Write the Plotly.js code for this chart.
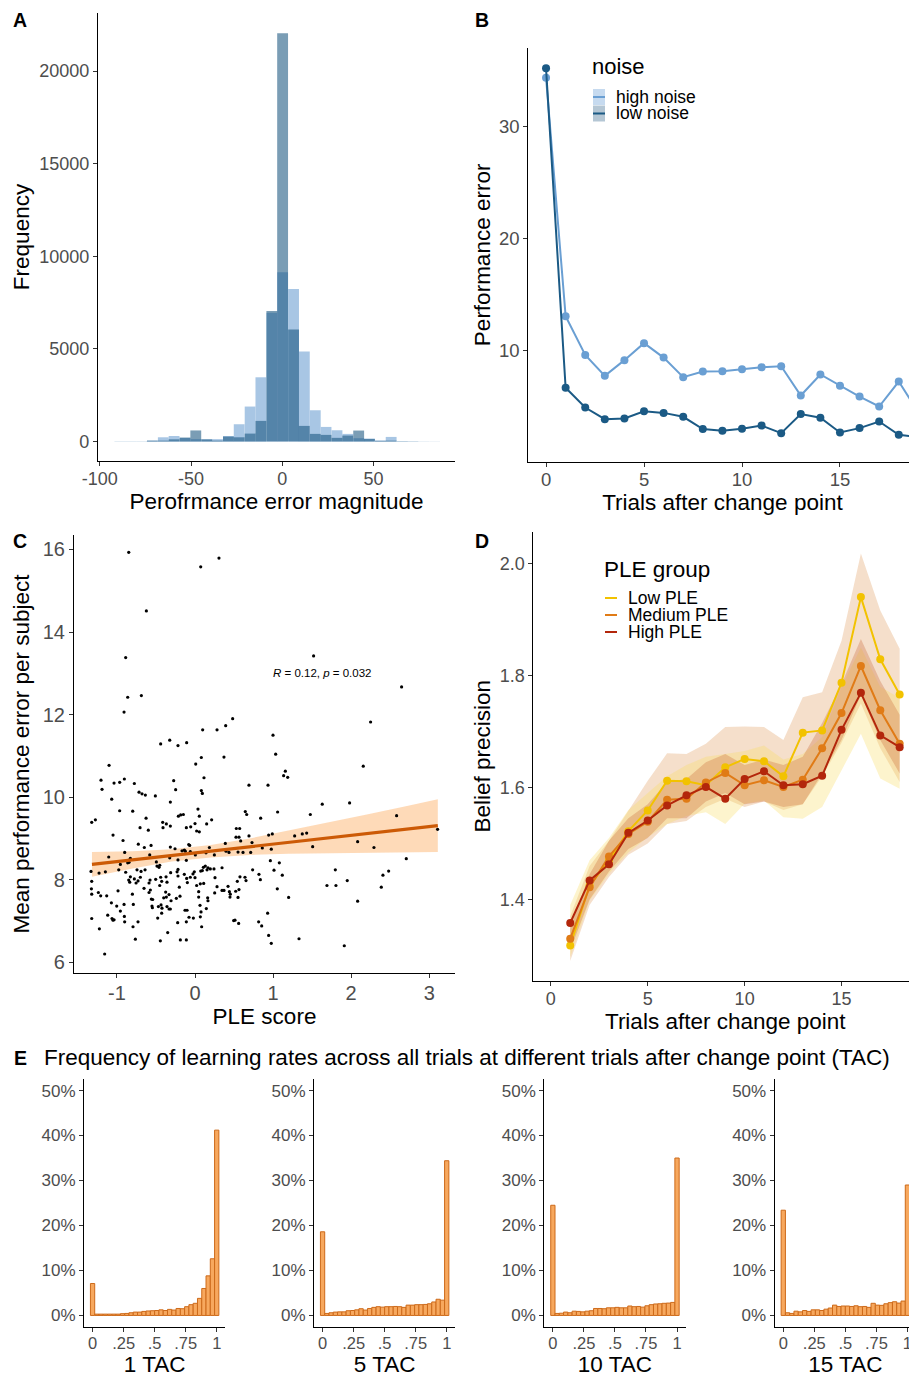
<!DOCTYPE html>
<html><head><meta charset="utf-8">
<script src="https://cdn.plot.ly/plotly-3.0.1.min.js"></script>
<style>html,body{margin:0;padding:0;overflow:hidden;background:#fff}#chart{width:940px;height:1378px}</style>
</head><body><div id="chart"></div>
<script>
// ---------- Panel A: histogram of performance error ----------
const errBinCenters = [-89.0,-83.1,-77.1,-71.2,-65.2,-59.3,-53.3,-47.4,-41.4,-35.5,-29.5,-23.6,-17.6,-11.7,-5.7,0.2,6.2,12.1,18.1,24.0,30.0,35.9,41.9,47.8,53.8,59.7,65.7,71.6,77.6,83.5];
const highNoiseCounts = [10,10,10,50,230,300,200,130,120,130,300,935,1890,3470,6950,9140,8240,4857,1690,790,610,414,180,160,55,250,20,15,5,5];
const lowNoiseCounts  = [5,5,5,50,50,120,215,600,120,50,270,230,430,1115,7050,22040,6045,845,414,360,200,324,594,140,40,50,15,10,5,3];
const errTickVals = [-100,-50,0,50];
const errTickText = ['-100','-50','0','50'];
const freqTickVals = [0,5000,10000,15000,20000];
const freqTickText = ['0','5000','10000','15000','20000'];

// ---------- Panel B: performance error by trial ----------
const trialsB = [0,1,2,3,4,5,6,7,8,9,10,11,12,13,14,15,16,17,18,19];
const highNoiseErr = [34.4,13.1,9.64,7.77,9.17,10.69,9.40,7.65,8.15,8.18,8.36,8.54,8.63,6.01,7.89,6.88,5.92,5.03,7.26,4.5];
const lowNoiseErr  = [35.24,6.70,4.94,3.90,3.96,4.61,4.46,4.11,3.01,2.86,3.04,3.33,2.65,4.35,4.02,2.71,3.10,3.69,2.50,2.3];
const noiseNames = ['high noise','low noise'];

// ---------- Panel C: scatter PLE score vs mean performance error ----------
const pleScore = [
-0.849,0.307,0.073,-0.623,-0.888,1.519,2.646,-0.862,-0.687,-0.909,
2.249,0.482,0.393,0.282,0.098,0.999,-0.440,-0.324,-0.218,-0.107,
0.371,1.033,0.081,0.009,2.155,-1.101,1.157,1.135,1.187,0.115,
-1.204,-1.191,-0.965,-1.037,-0.905,-0.777,-0.273,-0.248,-0.717,-0.679,
-0.636,0.081,0.094,0.691,0.935,-0.508,-1.067,-0.316,-0.965,-0.798,
0.038,-0.213,-0.184,-0.149,0.055,-0.627,0.149,0.213,0.644,0.662,
0.841,1.058,1.477,1.630,1.980,2.582,-1.323,-1.276,-0.414,-0.367,
-0.316,-0.704,-0.598,-0.410,-0.111,-0.055,0.000,0.021,0.055,0.529,
0.572,0.943,0.990,1.276,1.374,1.430,-1.050,-0.922,-0.901,-0.726,
-0.649,-0.563,-0.316,-0.256,-0.081,-0.068,-0.166,-0.137,-0.124,0.525,
0.563,0.388,0.585,0.691,0.730,2.083,1.507,2.292,2.706,3.107,
-1.105,-0.828,-0.845,-0.956,-0.977,-0.888,-0.862,-0.580,-0.495,-0.452,
-0.324,-0.218,-0.111,-0.060,0.004,0.141,0.184,0.248,0.397,0.435,
0.551,0.615,0.713,0.862,0.977,0.965,1.012,1.080,1.118,1.199,
1.054,-1.332,-1.229,-1.148,-1.323,-1.327,-1.323,-1.238,-1.208,-1.131,
-0.986,-0.802,-0.849,-0.836,-0.828,-0.777,-0.755,-0.730,-0.700,-0.743,
-0.691,-0.640,-0.653,-0.576,-0.589,-0.572,-0.589,-0.504,-0.427,-0.440,
-0.371,-0.359,-0.376,-0.333,-0.367,-0.452,-0.542,-0.487,-0.461,-0.312,
-0.218,-0.218,-0.230,-0.201,-0.137,-0.098,-0.107,-0.060,-0.009,-0.026,
0.000,0.021,0.047,0.068,0.047,0.073,0.107,0.132,0.154,0.094,
0.166,0.196,0.243,0.111,0.162,0.346,0.282,0.252,0.346,0.423,
0.440,0.452,0.551,0.563,0.521,0.542,0.576,0.640,0.653,0.738,
0.819,0.837,0.930,0.943,0.977,0.815,0.854,0.495,0.559,1.332,
1.690,1.797,1.805,1.950,2.083,1.912,2.386,2.407,2.480,-1.225,
-1.157,-1.323,-1.118,-1.063,-1.037,-1.050,-1.003,-0.956,-0.909,-0.905,
-0.901,-0.794,-0.764,-0.730,-0.790,-1.071,-0.559,-0.551,-0.546,-0.478,
-0.469,-0.435,-0.427,-0.423,-0.401,-0.359,-0.333,-0.316,-0.350,-0.444,
-0.307,-0.239,-0.222,-0.188,-0.111,-0.192,-0.128,-0.102,-0.111,-0.077,
-0.021,0.068,0.077,0.085,0.064,0.145,0.166,0.371,0.256,0.448,0.512];
const meanPerfErr = [
15.93,15.79,15.58,14.51,13.38,13.42,12.67,12.42,12.46,12.06,
11.82,11.90,11.73,11.63,11.63,11.50,11.29,11.38,11.25,11.32,
10.97,11.04,10.96,10.80,10.75,10.77,10.63,10.52,10.48,10.47,
10.41,10.19,10.36,10.34,10.44,10.33,10.40,10.18,10.12,10.08,
10.05,10.16,10.09,10.29,10.29,10.03,9.95,9.88,9.67,9.66,
9.71,9.54,9.57,9.58,9.54,9.49,9.35,9.45,9.65,9.58,
9.49,9.64,9.58,9.83,9.86,9.55,9.39,9.45,9.39,9.35,
9.30,9.26,9.20,9.26,9.26,9.28,9.36,9.18,9.16,9.24,
9.24,9.08,9.11,9.06,9.11,9.13,9.08,8.95,8.66,8.86,
8.78,8.83,8.79,8.75,8.85,8.83,8.70,8.72,8.69,9.03,
9.03,8.88,8.94,9.06,8.90,8.92,8.80,8.78,8.51,9.22,
8.55,8.52,8.42,8.37,8.24,8.18,8.41,8.60,8.43,8.35,
8.53,8.48,8.47,8.68,8.60,8.65,8.78,8.60,8.69,8.66,
8.67,8.66,8.66,8.77,8.74,8.46,8.23,8.41,8.11,7.57,
7.78,8.20,8.16,8.19,7.96,7.78,7.65,7.69,7.61,7.61,
7.73,7.65,7.99,7.94,8.07,8.02,7.92,7.97,8.06,8.24,
8.20,8.24,7.79,7.99,7.92,7.75,7.69,8.01,7.96,8.06,
8.07,7.94,7.70,7.64,7.58,7.86,7.52,8.33,8.30,8.17,
8.09,8.25,8.19,7.82,8.13,7.93,8.03,8.06,8.19,8.14,
8.05,7.86,7.71,7.90,7.58,8.21,8.30,8.33,8.24,8.22,
8.29,8.26,8.26,7.91,7.56,8.29,7.83,7.68,7.74,7.84,
7.71,7.65,7.57,7.76,7.72,7.96,8.07,8.06,7.98,8.24,
8.13,8.00,7.19,6.65,6.46,6.98,6.88,7.01,6.94,6.57,
7.86,8.24,7.86,7.98,7.48,6.40,7.82,8.11,8.21,6.81,
6.20,7.06,7.14,7.06,7.03,7.02,7.36,7.24,7.40,7.11,
6.98,6.86,6.56,6.98,7.40,7.44,7.53,7.36,7.32,7.07,
7.35,7.39,7.19,7.31,7.56,7.35,7.29,7.29,6.72,6.52,
7.49,7.55,6.96,6.54,6.54,7.60,7.26,7.26,6.98,7.09,
7.07,7.10,7.22,6.86,7.38,7.30,7.49,7.74,8.05,7.58,7.02];
const fitX     = [-1.32,-0.8,-0.3,0.2,0.7,1.2,1.7,2.2,2.7,3.11];
const fitY     = [8.37,8.48,8.59,8.69,8.80,8.91,9.01,9.12,9.22,9.31];
const fitUpper = [8.67,8.69,8.74,8.84,9.00,9.19,9.38,9.58,9.78,9.95];
const fitLower = [8.07,8.27,8.44,8.54,8.60,8.63,8.64,8.66,8.66,8.67];
const pleTickVals = [-1,0,1,2,3];
const pleTickText = ['-1','0','1','2','3'];

// ---------- Panel D: belief precision by PLE group ----------
const trialsD = [1,2,3,4,5,6,7,8,9,10,11,12,13,14,15,16,17,18];
const lowPLE  = [1.318,1.425,1.470,1.522,1.559,1.612,1.611,1.604,1.636,1.651,1.647,1.620,1.698,1.702,1.787,1.940,1.829,1.766];
const medPLE  = [1.330,1.422,1.477,1.517,1.539,1.578,1.580,1.609,1.626,1.604,1.613,1.601,1.614,1.670,1.733,1.817,1.738,1.678];
const highPLE = [1.358,1.434,1.463,1.519,1.541,1.568,1.586,1.601,1.580,1.615,1.629,1.604,1.606,1.621,1.703,1.769,1.693,1.672];
const lowBandUpper  = [1.37,1.46,1.505,1.559,1.612,1.661,1.660,1.678,1.708,1.709,1.708,1.685,1.761,1.770,1.862,2.018,1.916,1.848];
const lowBandLower  = [1.29,1.39,1.44,1.48,1.50,1.535,1.54,1.565,1.58,1.565,1.575,1.56,1.57,1.62,1.68,1.75,1.67,1.61];
const medBandUpper  = [1.35,1.445,1.505,1.545,1.57,1.61,1.615,1.645,1.66,1.64,1.65,1.64,1.655,1.715,1.785,1.865,1.79,1.73];
const medBandLower  = [1.31,1.40,1.45,1.49,1.51,1.545,1.545,1.575,1.59,1.57,1.575,1.565,1.57,1.625,1.685,1.765,1.685,1.625];
const highBandUpper = [1.39,1.47,1.51,1.56,1.59,1.62,1.64,1.655,1.66,1.665,1.675,1.65,1.66,1.69,1.78,1.85,1.78,1.76];
const highBandLower = [1.297,1.398,1.446,1.484,1.511,1.535,1.549,1.556,1.535,1.571,1.577,1.547,1.544,1.565,1.630,1.696,1.616,1.598];
const pleGroups = ['Low PLE','Medium PLE','High PLE'];

// ---------- Panel E: learning-rate histograms (percent) ----------
const lrBins = [0,0.0345,0.069,0.1034,0.1379,0.1724,0.2069,0.2414,0.2759,0.3103,0.3448,0.3793,0.4138,0.4483,0.4828,0.5172,0.5517,0.5862,0.6207,0.6552,0.6897,0.7241,0.7586,0.7931,0.8276,0.8621,0.8966,0.9310,0.9655,1];
const tac1  = [7.1,0.3,0.3,0.3,0.3,0.3,0.3,0.4,0.45,0.6,0.75,0.75,0.9,1.0,1.05,1.1,1.25,1.1,1.35,1.2,1.55,1.5,1.95,2.4,2.7,3.8,6.0,8.8,12.6,41.2];
const tac5  = [18.6,0.45,0.6,0.75,0.8,0.8,1.05,1.1,1.25,1.5,1.2,1.55,1.8,1.95,1.85,1.95,1.95,2.0,1.95,1.8,2.3,2.3,2.4,2.4,2.45,2.6,3.0,3.6,3.4,34.4];
const tac10 = [24.5,0.45,0.5,0.75,0.6,0.95,0.9,0.8,0.95,1.05,1.55,1.55,1.5,1.7,1.7,1.8,1.7,1.7,2.1,1.95,2.0,1.85,2.15,2.4,2.55,2.6,2.7,2.75,2.9,35.0];
const tac15 = [23.4,0.6,0.45,0.95,0.8,1.1,0.9,1.25,1.25,1.1,1.4,1.65,2.3,2.0,2.1,2.1,2.0,2.15,1.95,2.0,1.8,2.7,2.3,2.25,2.6,2.85,3.05,2.75,3.2,29.0];
const tacLabels = ['1 TAC','5 TAC','10 TAC','15 TAC'];
const lrTickVals = [0,0.25,0.5,0.75,1];
const lrTickText = ['0','.25','.5','.75','1'];
const pctTickVals = [0,10,20,30,40,50];
const pctTickText = ['0%','10%','20%','30%','40%','50%'];

// ---------- layout helpers ----------
const W = 940, H = 1378;
const dx = (a,b) => [a/W, b/W];
const dy = (top,bot) => [1-bot/H, 1-top/H];
const px = v => v/W, py = v => 1-v/H;
const FONT = 'Liberation Sans, Arial, Helvetica, sans-serif';
const TICKC = '#4d4d4d';
function ax(o, tsize){
  return Object.assign({showline:true, linecolor:'#000', linewidth:1.1, ticks:'outside', ticklen:4,
    tickcolor:'#333', tickwidth:1, showgrid:false, zeroline:false, fixedrange:true,
    tickfont:{size:tsize||17, color:TICKC, family:FONT}}, o);
}
function ttl(text, standoff){ return {text:text, standoff:standoff, font:{size:22.5, color:'#000', family:FONT}}; }

const traces = [];
// A
traces.push({type:'bar', x:errBinCenters, y:highNoiseCounts, width:5.95, xaxis:'x', yaxis:'y',
  marker:{color:'rgb(168,198,228)', line:{width:0}}, showlegend:false});
traces.push({type:'bar', x:errBinCenters, y:lowNoiseCounts, width:5.95, xaxis:'x', yaxis:'y',
  marker:{color:'rgba(18,80,123,0.56)', line:{width:0}}, showlegend:false});
// B
const bColors = ['#6a9fd3','#1b5a85'];
const bKeyFill = ['#c6daef','#b4c6d4'];
[highNoiseErr, lowNoiseErr].forEach((s,i) => {
  traces.push({type:'scatter', mode:'lines+markers', x:trialsB, y:s, xaxis:'x2', yaxis:'y2', name:noiseNames[i],
    line:{color:bColors[i], width:2}, marker:{color:bColors[i], size:8}, showlegend:false});
});
// C
traces.push({type:'scatter', mode:'lines', x:fitX.concat(fitX.slice().reverse()), y:fitUpper.concat(fitLower.slice().reverse()),
  fill:'toself', fillcolor:'rgba(253,205,160,0.75)', line:{width:0}, xaxis:'x3', yaxis:'y3', showlegend:false});
traces.push({type:'scatter', mode:'markers', x:pleScore, y:meanPerfErr, xaxis:'x3', yaxis:'y3',
  marker:{color:'#000', size:3.2}, showlegend:false});
traces.push({type:'scatter', mode:'lines', x:fitX, y:fitY, xaxis:'x3', yaxis:'y3',
  line:{color:'#cc5a06', width:3.2}, showlegend:false});
// D ribbons
const dBands = [[lowBandUpper, lowBandLower, 'rgba(228,165,110,0.36)'],
                [highBandUpper, highBandLower, 'rgba(250,222,100,0.32)'],
                [medBandUpper, medBandLower, 'rgba(200,100,50,0.30)']];
dBands.forEach(b => {
  traces.push({type:'scatter', mode:'lines', x:trialsD.concat(trialsD.slice().reverse()), y:b[0].concat(b[1].slice().reverse()),
    fill:'toself', fillcolor:b[2], line:{width:0}, xaxis:'x4', yaxis:'y4', showlegend:false});
});
const dColors = ['#f2c200','#e07b16','#b3260b'];
[lowPLE, medPLE, highPLE].forEach((s,i) => {
  traces.push({type:'scatter', mode:'lines+markers', x:trialsD, y:s, xaxis:'x4', yaxis:'y4', name:pleGroups[i],
    line:{color:dColors[i], width:2}, marker:{color:dColors[i], size:8}, showlegend:false});
});
// E
[tac1, tac5, tac10, tac15].forEach((d,i) => {
  traces.push({type:'bar', x:lrBins, y:d, width:0.0345, xaxis:'x'+(5+i), yaxis:'y'+(5+i),
    marker:{color:'#f7a85e', line:{color:'#cd6a1a', width:1}}, showlegend:false});
});

const layout = {
  width:W, height:H, margin:{l:0,r:0,t:0,b:0}, paper_bgcolor:'#fff', plot_bgcolor:'rgba(0,0,0,0)',
  font:{family:FONT, color:'#000'}, barmode:'overlay', hovermode:false, showlegend:false,
  xaxis: ax({domain:dx(98,455), range:[-101,94.7], tickvals:errTickVals, ticktext:errTickText, ticklabelstandoff:-3,
    title:ttl('Perofrmance error magnitude', 1)}, 18),
  yaxis: ax({domain:dy(13,461), range:[-1050,23140], tickvals:freqTickVals, ticktext:freqTickText,
    title:ttl('Frequency', 3)}, 18),
  xaxis2: ax({domain:dx(528.4,916.4), range:[-0.9,18.9], tickvals:[0,5,10,15], ticktext:['0','5','10','15'], ticklabelstandoff:-3,
    title:ttl('Trials after change point', 0), anchor:'y2'}, 18.5),
  yaxis2: ax({domain:dy(48,461.7), range:[0.1,37.05], tickvals:[10,20,30], ticktext:['10','20','30'],
    title:ttl('Performance error', 2), anchor:'x2'}, 18.5),
  xaxis3: ax({domain:dx(74,455), range:[-1.55,3.33], tickvals:pleTickVals, ticktext:pleTickText, ticklabelstandoff:-2,
    title:ttl('PLE score', 4), anchor:'y3'}, 20),
  yaxis3: ax({domain:dy(535,973), range:[5.74,16.35], tickvals:[6,8,10,12,14,16], ticktext:['6','8','10','12','14','16'],
    title:ttl('Mean performance error per subject', 6), anchor:'x3'}, 20),
  xaxis4: ax({domain:dx(533.4,917.1), range:[-0.9,18.9], tickvals:[0,5,10,15], ticktext:['0','5','10','15'], ticklabelstandoff:-2,
    title:ttl('Trials after change point', 0), anchor:'y4'}, 18),
  yaxis4: ax({domain:dy(531.6,980.7), range:[1.255,2.057], tickvals:[1.4,1.6,1.8,2.0], ticktext:['1.4','1.6','1.8','2.0'],
    title:ttl('Belief precision', 2), anchor:'x4'}, 18),
  annotations:[], shapes:[]
};
const eX = [[84,225.3],[314,455.3],[544.3,685.6],[774.7,916]];
eX.forEach((p,i) => {
  const n = 5+i;
  layout['xaxis'+n] = ax({domain:dx(p[0],p[1]), range:[-0.069,1.069], tickvals:lrTickVals, ticktext:lrTickText, ticklabelstandoff:-3,
    title:ttl(tacLabels[i], 4), anchor:'y'+n}, 16.5);
  layout['yaxis'+n] = ax({domain:dy(1079.3,1326.7), range:[-2.5,52.5], tickvals:pctTickVals, ticktext:pctTickText,
    anchor:'x'+n}, 17);
});
function addText(text, x, y, size, anchor, extra){
  layout.annotations.push(Object.assign({text:text, xref:'paper', yref:'paper', x:px(x), y:py(y),
    xanchor:anchor||'left', yanchor:'middle', showarrow:false, font:{size:size, family:FONT, color:'#000'}}, extra||{}));
}
// panel letters
[['A',20,20],['B',482,20],['C',20,541],['D',482,541],['E',20,1058]].forEach(l => addText('<b>'+l[0]+'</b>', l[1], l[2], 19.5, 'center'));
// panel E title
addText('Frequency of learning rates across all trials at different trials after change point (TAC)', 42, 1057, 22.5, 'left');
// correlation annotation
layout.annotations.push({text:'<i>R</i> = 0.12, <i>p</i> = 0.032', xref:'x3', yref:'y3', x:1.63, y:13.01,
  xanchor:'center', yanchor:'middle', showarrow:false, font:{size:11.5, family:FONT, color:'#000'}});

// legend for panel B (title, keys: shaded square + line)
addText('noise', 590, 67, 22, 'left');
noiseNames.forEach((n,i) => {
  const yc = 97 + i*16.5;
  layout.shapes.push({type:'rect', xref:'paper', yref:'paper', x0:px(593), x1:px(605), y0:py(yc+8), y1:py(yc-8),
    fillcolor:bKeyFill[i], line:{width:0}, layer:'above'});
  layout.shapes.push({type:'line', xref:'paper', yref:'paper', x0:px(593), x1:px(605), y0:py(yc), y1:py(yc),
    line:{color:bColors[i], width:2}, layer:'above'});
  addText(n, 615, yc, 17.5, 'left', {borderpad:0});
});
// legend for panel D (title, keys: short lines)
addText('PLE group', 602, 569, 22.5, 'left');
pleGroups.forEach((n,i) => {
  const yc = 598 + i*17;
  layout.shapes.push({type:'line', xref:'paper', yref:'paper', x0:px(605), x1:px(617), y0:py(yc), y1:py(yc),
    line:{color:dColors[i], width:2}, layer:'above'});
  addText(n, 627, yc, 17.5, 'left', {borderpad:0});
});

Plotly.newPlot('chart', traces, layout, {staticPlot:true, displayModeBar:false});
</script></body></html>
